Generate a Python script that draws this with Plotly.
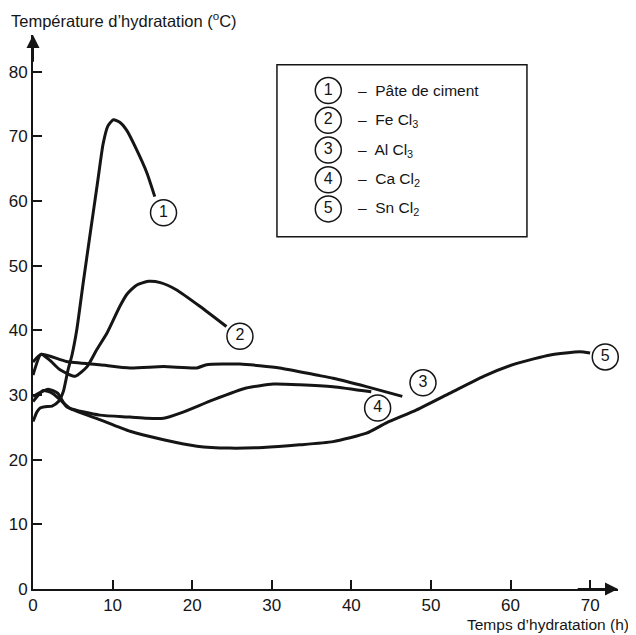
import plotly.graph_objects as go

# ---- data ----
time_1 = [0, 0.5, 0.9, 1.5, 2.4, 3.2, 3.8, 4.4, 4.9, 5.5, 6.3, 7.2, 8.1, 8.8, 9.4, 10.1, 10.9, 11.8, 13.0, 14.3, 15.3]
temp_1 = [25.9, 27.4, 28.0, 28.2, 28.3, 29.0, 30.5, 33.9, 36.2, 40.1, 47.3, 55.1, 62.8, 68.8, 71.6, 72.6, 72.2, 70.9, 68.0, 64.4, 60.7]

time_2 = [0, 1.0, 2.1, 3.4, 5.3, 6.8, 8.0, 9.3, 10.9, 11.8, 13.0, 14.5, 16.0, 18.0, 21.0, 24.3]
temp_2 = [33.1, 36.3, 35.4, 33.9, 32.9, 34.4, 37.0, 39.6, 43.7, 45.6, 47.0, 47.6, 47.4, 46.3, 43.7, 40.6]

time_3 = [0, 1.0, 4.2, 8.4, 12.2, 16.4, 20.6, 21.8, 26.0, 31.0, 35.6, 37.7, 41.9, 46.4]
temp_3 = [35.1, 36.3, 35.2, 34.7, 34.2, 34.4, 34.2, 34.7, 34.8, 34.2, 33.1, 32.6, 31.3, 29.8]

time_4 = [0, 1.3, 2.4, 3.4, 4.6, 8.4, 12.2, 14.3, 16.4, 18.5, 22.7, 26.8, 30.2, 33.5, 37.7, 42.5]
temp_4 = [29.0, 30.7, 30.3, 29.3, 28.0, 26.9, 26.6, 26.4, 26.4, 27.2, 29.3, 31.1, 31.7, 31.6, 31.3, 30.5]

time_5 = [0, 1.9, 3.1, 4.2, 8.4, 12.2, 16.4, 20.6, 24.7, 28.9, 33.5, 37.7, 41.9, 44.4, 48.2, 52.4, 56.6, 60.8, 65.0, 68.7, 70.0]
temp_5 = [29.8, 30.9, 30.3, 28.2, 26.2, 24.4, 23.1, 22.1, 21.8, 21.9, 22.3, 22.8, 24.1, 25.7, 27.7, 30.3, 32.9, 34.9, 36.2, 36.7, 36.5]

curve_ids = ["1", "2", "3", "4", "5"]
label_x = [16.4, 26.0, 49.0, 43.3, 71.9]
label_y = [58.2, 39.1, 31.9, 28.0, 35.9]

legend_names = ["Pâte de ciment", "Fe Cl<sub>3</sub>", "Al Cl<sub>3</sub>", "Ca Cl<sub>2</sub>", "Sn Cl<sub>2</sub>"]

x_ticks = [0, 10, 20, 30, 40, 50, 60, 70]
y_ticks = [0, 10, 20, 30, 40, 50, 60, 70, 80]

x_title = "Temps d’hydratation (h)"
y_title = "Température d’hydratation (<sup>o</sup>C)"

# ---- figure ----
INK = "#151515"
FONT = "Liberation Sans, Arial, sans-serif"

series = [(time_1, temp_1), (time_2, temp_2), (time_3, temp_3), (time_4, temp_4), (time_5, temp_5)]

fig = go.Figure()
for t, v in series:
    fig.add_trace(go.Scatter(
        x=t, y=v, mode="lines",
        line=dict(color=INK, width=3, shape="spline", smoothing=0.55),
        hoverinfo="skip", cliponaxis=False))

circle_marker = dict(symbol="circle", size=26, color="white", line=dict(color=INK, width=1.5))

fig.add_trace(go.Scatter(
    x=label_x, y=label_y, mode="markers+text", text=curve_ids,
    textposition="middle center", textfont=dict(size=16, color=INK, family=FONT),
    marker=circle_marker, hoverinfo="skip", cliponaxis=False))

# legend box (layout positions in data space)
box_x0, box_x1, box_y0, box_y1 = 30.65, 62.06, 54.5, 81.1
leg_cx = 37.1
leg_tx = 40.6
leg_rows = [77.1, 72.5, 67.9, 63.3, 58.8]

fig.add_shape(type="rect", xref="x", yref="y", x0=box_x0, x1=box_x1, y0=box_y0, y1=box_y1,
              line=dict(color=INK, width=1.5), fillcolor="white", layer="below")

fig.add_trace(go.Scatter(
    x=[leg_cx] * len(curve_ids), y=leg_rows, mode="markers+text", text=curve_ids,
    textposition="middle center", textfont=dict(size=16, color=INK, family=FONT),
    marker=circle_marker, hoverinfo="skip", cliponaxis=False))

annotations = []
for name, ry in zip(legend_names, leg_rows):
    annotations.append(dict(x=leg_tx, y=ry, xref="x", yref="y", text="–  " + name,
                            showarrow=False, xanchor="left", yanchor="middle",
                            font=dict(size=15.5, color=INK, family=FONT)))

# axis arrows
annotations.append(dict(x=0, y=85.7, ax=0, ay=80, xref="x", yref="y", axref="x", ayref="y",
                        text=" ", showarrow=True, arrowhead=2, arrowsize=1.3, arrowwidth=2, arrowcolor=INK))
annotations.append(dict(x=73.5, y=0, ax=68, ay=0, xref="x", yref="y", axref="x", ayref="y",
                        text=" ", showarrow=True, arrowhead=2, arrowsize=1.3, arrowwidth=2, arrowcolor=INK))

# axis titles
annotations.append(dict(x=-0.041, y=1.027, xref="paper", yref="paper", text=y_title,
                        showarrow=False, xanchor="left", yanchor="middle",
                        font=dict(size=16.5, color=INK, family=FONT)))
annotations.append(dict(x=1.022, y=-0.064, xref="paper", yref="paper", text=x_title,
                        showarrow=False, xanchor="right", yanchor="middle",
                        font=dict(size=15.5, color=INK, family=FONT)))

# page body has an 8px default margin, so the figure is sized to sit inside the window
fig.update_layout(
    width=628, height=627,
    margin=dict(l=25, r=18, t=27, b=46),
    paper_bgcolor="white", plot_bgcolor="white",
    showlegend=False,
    font=dict(family=FONT, color=INK, size=16),
    annotations=annotations,
    xaxis=dict(range=[0, 73.5], tickvals=x_ticks, ticks="inside", ticklen=9, tickwidth=1.5,
               tickcolor=INK, showline=True, linecolor=INK, linewidth=2, showgrid=False,
               zeroline=False, automargin=False,
               tickfont=dict(size=17, color=INK, family=FONT), fixedrange=True),
    yaxis=dict(range=[0, 85.7], tickvals=y_ticks, ticks="inside", ticklen=9, tickwidth=1.5,
               tickcolor=INK, showline=True, linecolor=INK, linewidth=2, showgrid=False,
               zeroline=False, automargin=False,
               tickfont=dict(size=17, color=INK, family=FONT), fixedrange=True),
)

fig.write_html("out.html")
